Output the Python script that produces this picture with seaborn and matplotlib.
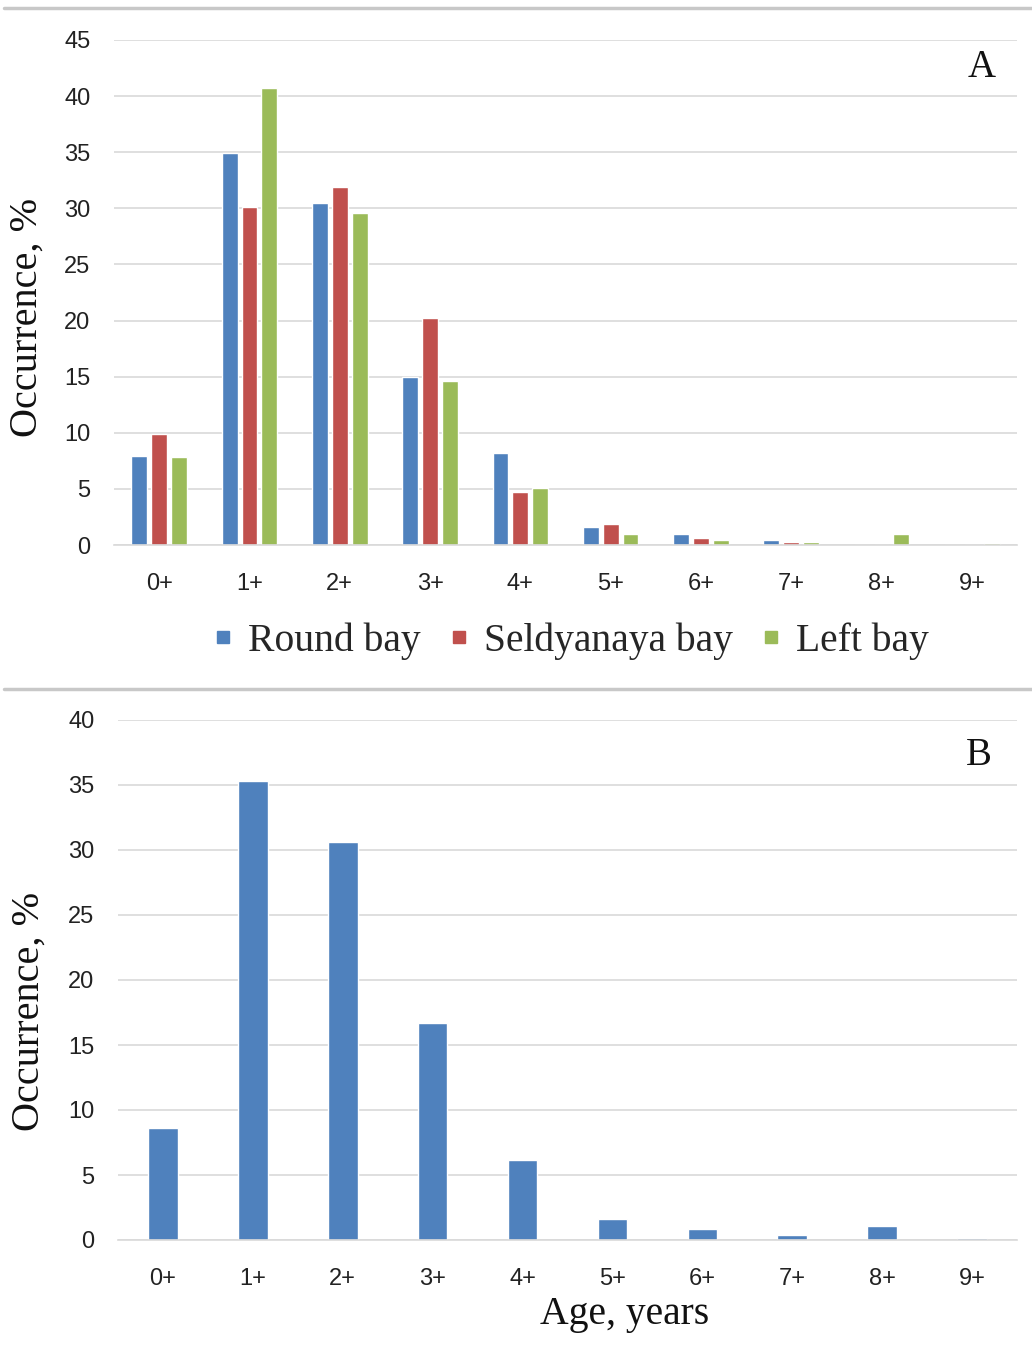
import matplotlib
matplotlib.use("Agg")
import matplotlib.pyplot as plt
from matplotlib import font_manager
from matplotlib.lines import Line2D
import numpy as np
import pandas as pd
import seaborn as sns

# Age classes and occurrence (%) per bay
ages = ["0+", "1+", "2+", "3+", "4+", "5+", "6+", "7+", "8+", "9+"]
round_bay = [7.9, 34.9, 30.5, 15.0, 8.2, 1.6, 1.0, 0.45, 0.0, 0.0]
seldyanaya_bay = [9.9, 30.1, 31.9, 20.2, 4.7, 1.85, 0.65, 0.3, 0.0, 0.0]
left_bay = [7.8, 40.7, 29.6, 14.6, 5.1, 1.0, 0.45, 0.27, 1.0, 0.15]
series_names = ["Round bay", "Seldyanaya bay", "Left bay"]

# Pooled occurrence (%) for all bays
pooled = [8.6, 35.3, 30.6, 16.7, 6.15, 1.6, 0.85, 0.4, 1.1, 0.12]

colors = ["#4F81BD", "#C0504D", "#9BBB59"]

sns.set_theme(style="white")

available = {f.name for f in font_manager.fontManager.ttflist}
if "Liberation Sans Narrow" in available:
    tick_font, tick_size = "Liberation Sans Narrow", 19
else:
    tick_font, tick_size = "Liberation Sans", 17
serif_font = "Liberation Serif"
plt.rcParams["font.family"] = [tick_font, "DejaVu Sans"]

W, H = 1032, 1362
fig = plt.figure(figsize=(W / 100, H / 100), dpi=100)


def px_axes(left, top, right, bottom):
    return fig.add_axes([left / W, 1 - bottom / H, (right - left) / W, (bottom - top) / H])


def style_axes(ax, ymax, step):
    ax.set_ylim(0, ymax)
    ax.set_yticks(np.arange(0, ymax + 0.1, step))
    ax.yaxis.grid(True, color="#D9D9D9", linewidth=1.2)
    ax.set_axisbelow(True)
    for s in ["top", "right", "left"]:
        ax.spines[s].set_visible(False)
    ax.spines["bottom"].set_color("#D9D9D9")
    ax.spines["bottom"].set_linewidth(1.2)
    ax.tick_params(axis="both", length=0, labelsize=tick_size, colors="#222222")
    ax.tick_params(axis="x", pad=20)
    ax.tick_params(axis="y", pad=17)
    ax.set_xlabel("")
    ax.set_ylabel("Occurrence, %", fontfamily=serif_font, fontsize=29, color="#111111")


# Panel A: three bays side by side
df_a = pd.DataFrame({
    "age": ages * 3,
    "value": round_bay + seldyanaya_bay + left_bay,
    "bay": [series_names[0]] * 10 + [series_names[1]] * 10 + [series_names[2]] * 10,
})
ax1 = px_axes(114, 40, 1017, 545)
sns.barplot(data=df_a, x="age", y="value", hue="bay", hue_order=series_names,
            order=ages, palette=colors, width=0.66, gap=0.2, saturation=1,
            ax=ax1, legend=False)
style_axes(ax1, 45, 5)
ax1.set_xlim(-0.5, 9.5)
ax1.yaxis.set_label_coords(-0.076, 0.45)
ax1.text(0.961, 0.982, "A", transform=ax1.transAxes, fontfamily=serif_font,
         fontsize=28, ha="center", va="top", color="#111111")

handles = [Line2D([], [], marker="s", linestyle="none", markersize=8.5,
                  markerfacecolor=c, markeredgecolor=c) for c in colors]
fig.legend(handles, series_names, loc="center", bbox_to_anchor=(568 / W, 1 - 641 / H),
           ncol=3, frameon=False, prop={"family": serif_font, "size": 28.5},
           handletextpad=0.25, columnspacing=0.55, handlelength=0.8)

# Panel B: pooled distribution
df_b = pd.DataFrame({"age": ages, "value": pooled})
ax2 = px_axes(118, 720, 1017, 1240)
sns.barplot(data=df_b, x="age", y="value", order=ages, color=colors[0],
            width=0.33, saturation=1, ax=ax2)
style_axes(ax2, 40, 5)
ax2.set_xlim(-0.5, 9.5)
ax2.yaxis.set_label_coords(-0.078, 0.44)
ax2.set_xlabel("Age, years", fontfamily=serif_font, fontsize=28.5, color="#111111")
ax2.xaxis.set_label_coords(0.563, -0.108)
ax2.text(0.957, 0.967, "B", transform=ax2.transAxes, fontfamily=serif_font,
         fontsize=28, ha="center", va="top", color="#111111")

# Panel separators
for y in (8, 689):
    fig.add_artist(Line2D([4 / W, 1], [1 - y / H, 1 - y / H], transform=fig.transFigure,
                          color="#C8C8C8", linewidth=2.5))

fig.savefig("out.png", dpi=100, facecolor="white")
